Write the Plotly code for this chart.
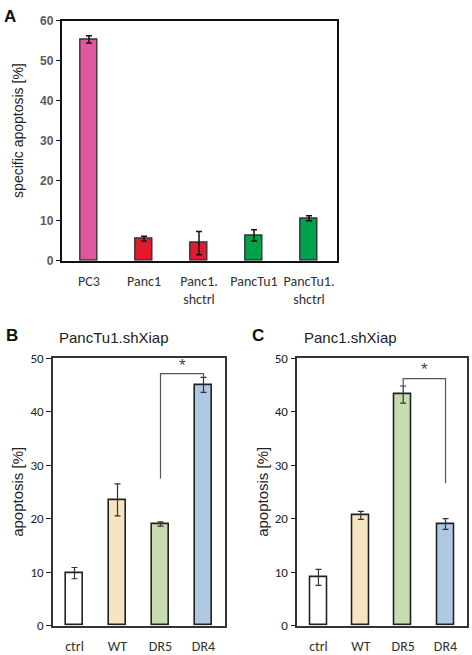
import plotly.graph_objects as go

# ---------------- data ----------------
A_categories = ["PC3", "Panc1", "Panc1.shctrl", "PancTu1", "PancTu1.shctrl"]
A_ticktext = ["PC3", "Panc1", "Panc1.<br>shctrl", "PancTu1", "PancTu1.<br>shctrl"]
A_values = [55.3, 5.5, 4.4, 6.3, 10.6]
A_errors = [0.9, 0.6, 2.9, 1.4, 0.6]
A_colors = ["#DF579C", "#E3192D", "#E3192D", "#00A14B", "#00A14B"]
A_yticks = [0, 10, 20, 30, 40, 50, 60]

BC_categories = ["ctrl", "WT", "DR5", "DR4"]
BC_colors = ["#FFFFFF", "#F6E3C0", "#C8DCB2", "#AFC8E3"]
B_values = [9.8, 23.5, 19.0, 45.0]
B_errors = [1.05, 3.0, 0.4, 1.4]
C_values = [9.0, 20.6, 43.2, 19.0]
C_errors = [1.5, 0.75, 1.6, 1.0]

# significance brackets: (left cat, right cat, left end, right end, top level, star level)
B_bracket = ("DR5", "DR4", 27.5, 46.4, 47.1, 48.6)
C_bracket = ("DR5", "DR4", 44.8, 26.6, 46.2, 47.9)

W, H = 472, 655
ARIAL = "Arial, Liberation Sans, sans-serif"
NARROW = "Carlito, Liberation Sans Narrow, Arial Narrow, Liberation Sans, sans-serif"

fig = go.Figure()

# Panel A
fig.add_trace(go.Bar(
    x=A_categories, y=A_values, width=0.32,
    marker=dict(color=A_colors, line=dict(color="#333333", width=1.4)),
    error_y=dict(type="data", array=A_errors, color="#111111", thickness=1.5, width=3),
    xaxis="x", yaxis="y", showlegend=False))

# Panel B
fig.add_trace(go.Bar(
    x=BC_categories, y=B_values, width=0.4,
    marker=dict(color=BC_colors, line=dict(color="#222222", width=1.6)),
    error_y=dict(type="data", array=B_errors, color="#333333", thickness=1.2, width=3),
    xaxis="x2", yaxis="y2", showlegend=False))

# Panel C
fig.add_trace(go.Bar(
    x=BC_categories, y=C_values, width=0.4,
    marker=dict(color=BC_colors, line=dict(color="#222222", width=1.6)),
    error_y=dict(type="data", array=C_errors, color="#333333", thickness=1.2, width=3),
    xaxis="x3", yaxis="y3", showlegend=False))

for br, xa, ya in [(B_bracket, "x2", "y2"), (C_bracket, "x3", "y3")]:
    lc, rc, lend, rend, top, star = br
    fig.add_trace(go.Scatter(
        x=[lc, lc, rc, rc], y=[lend, top, top, rend], mode="lines",
        line=dict(color="#555555", width=1.2), xaxis=xa, yaxis=ya,
        showlegend=False, hoverinfo="skip"))
    fig.add_annotation(x=2.5, y=star, xref=xa, yref=ya, text="*", showarrow=False,
                       font=dict(family=ARIAL, size=17, color="#444444"), yanchor="middle")

def px_x(a, b):
    return [a / W, b / W]

def px_y(top, bottom):
    return [1 - bottom / H, 1 - top / H]

common_y = dict(showgrid=False, zeroline=False, showline=True, mirror=True, ticks="outside")

fig.update_layout(
    width=W, height=H, margin=dict(l=0, r=0, t=0, b=0),
    paper_bgcolor="white", plot_bgcolor="white", bargap=0,
    xaxis=dict(domain=px_x(61.5, 336.5), anchor="y", showgrid=False, showline=True,
               mirror=True, linecolor="#111111", linewidth=1.5, ticks="",
               tickvals=A_categories, ticktext=A_ticktext, ticklabelstandoff=7,
               tickfont=dict(family=NARROW, size=14, color="#333333")),
    yaxis=dict(domain=px_y(14, 260), anchor="x", range=[0, 60],
               tickvals=A_yticks, ticktext=[f"<b>{v}</b>" for v in A_yticks],
               linecolor="#111111", linewidth=1.5, ticklen=4, tickcolor="#111111",
               tickfont=dict(family=ARIAL, size=12, color="#5A5A5A"),
               **common_y),
    xaxis2=dict(domain=px_x(53, 225), anchor="y2", showgrid=False, showline=True,
                mirror=True, linecolor="#333333", linewidth=1.5, ticks="",
                ticklabelstandoff=7,
                tickfont=dict(family=NARROW, size=14, color="#333333")),
    yaxis2=dict(domain=px_y(360, 634), anchor="x2", range=[0, 50], dtick=10,
                linecolor="#333333", linewidth=1.5, ticklen=5, tickcolor="#222222",
                tickfont=dict(family=NARROW, size=13, color="#222222"), **common_y),
    xaxis3=dict(domain=px_x(297.3, 466.7), anchor="y3", showgrid=False, showline=True,
                mirror=True, linecolor="#333333", linewidth=1.5, ticks="",
                ticklabelstandoff=7,
                tickfont=dict(family=NARROW, size=14, color="#333333")),
    yaxis3=dict(domain=px_y(360, 634), anchor="x3", range=[0, 50], dtick=10,
                linecolor="#333333", linewidth=1.5, ticklen=5, tickcolor="#222222",
                tickfont=dict(family=NARROW, size=13, color="#222222"), **common_y),
)

# panel letters, titles, axis titles
ann = [
    dict(text="<b>A</b>", x=2 / W, y=1 - 10 / H, size=17, xanchor="left", color="#111111", angle=0),
    dict(text="<b>B</b>", x=4 / W, y=1 - 337 / H, size=17, xanchor="left", color="#111111", angle=0),
    dict(text="<b>C</b>", x=250 / W, y=1 - 337 / H, size=17, xanchor="left", color="#111111", angle=0),
    dict(text="PancTu1.shXiap", x=57 / W, y=1 - 339 / H, size=15, xanchor="left", color="#222222", angle=0),
    dict(text="Panc1.shXiap", x=302 / W, y=1 - 339 / H, size=15, xanchor="left", color="#222222", angle=0),
    dict(text="specific apoptosis [%]", x=18 / W, y=1 - 127 / H, size=14, xanchor="center", color="#222222", angle=-90),
    dict(text="apoptosis [%]", x=18 / W, y=1 - 497 / H, size=15, xanchor="center", color="#222222", angle=-90),
    dict(text="apoptosis [%]", x=263 / W, y=1 - 497 / H, size=15, xanchor="center", color="#222222", angle=-90),
]
for a in ann:
    fig.add_annotation(text=a["text"], x=a["x"], y=a["y"], xref="paper", yref="paper",
                       showarrow=False, xanchor=a["xanchor"], yanchor="middle",
                       textangle=a["angle"],
                       font=dict(family=ARIAL, size=a["size"], color=a["color"]))

fig.write_html("out.html", config={"displayModeBar": False},
               post_script="document.body.style.margin='0';")
